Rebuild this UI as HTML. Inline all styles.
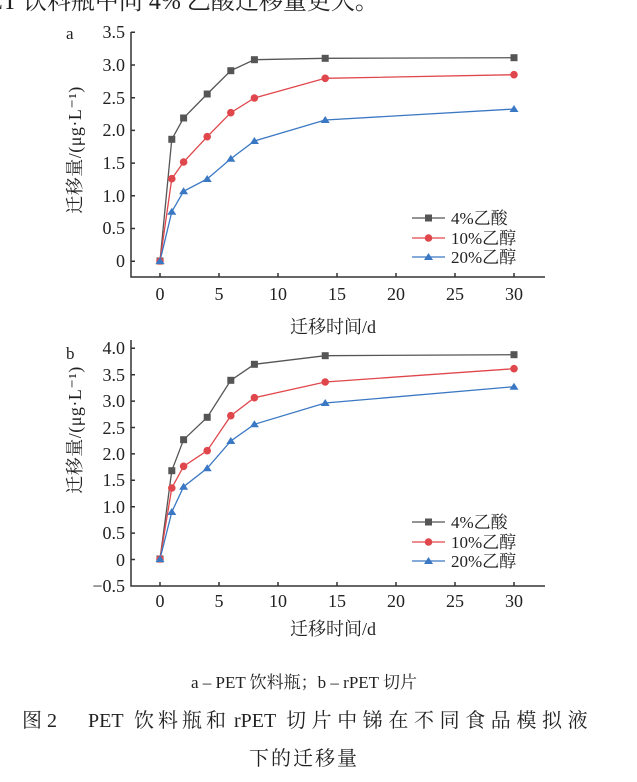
<!DOCTYPE html>
<html><head><meta charset="utf-8"><style>
html,body{margin:0;padding:0;background:#fff;width:637px;height:782px;overflow:hidden}
svg{display:block}
text{font-family:"Liberation Serif","Noto Serif CJK SC",serif;fill:#222}
</style></head><body>
<svg width="637" height="782" viewBox="0 0 637 782" xmlns="http://www.w3.org/2000/svg">
<text x="-12" y="9" font-size="24" fill="#333">ET 饮料瓶中同 4% 乙酸迁移量更大。</text>

<!-- Chart a -->
<g stroke="#333" stroke-width="1.5" fill="none">
<path d="M131,32 V277 H545"/>
<path d="M131,32.3h4M131,65h4M131,97.7h4M131,130.4h4M131,163.1h4M131,195.8h4M131,228.5h4M131,261.2h4"/>
<path d="M160,277v-4M219,277v-4M278,277v-4M337,277v-4M396,277v-4M455,277v-4M514,277v-4"/>
</g>
<g font-size="18" text-anchor="end">
<text x="125" y="38">3.5</text><text x="125" y="71">3.0</text><text x="125" y="104">2.5</text><text x="125" y="136">2.0</text><text x="125" y="169">1.5</text><text x="125" y="202">1.0</text><text x="125" y="234">0.5</text><text x="125" y="267">0</text>
</g>
<text x="66" y="39" font-size="17">a</text>
<g font-size="18" text-anchor="middle">
<text x="160" y="300">0</text><text x="219" y="300">5</text><text x="278" y="300">10</text><text x="337" y="300">15</text><text x="396" y="300">20</text><text x="455" y="300">25</text><text x="514" y="300">30</text>
<text x="333" y="333">迁移时间/d</text>
<text transform="translate(81,150) rotate(-90)" letter-spacing="0.5">迁移量/(μg·L⁻¹)</text>
</g>
<polyline fill="none" stroke="#555" stroke-width="1.3" points="160,261 171.8,139.3 183.6,118 207.2,94 230.8,70.7 254.4,59.7 325.2,58.3 514,57.7"/>
<polyline fill="none" stroke="#e0474c" stroke-width="1.3" points="160,261 171.8,178.7 183.6,162 207.2,136.7 230.8,112.7 254.4,98 325.2,78.3 514,74.7"/>
<polyline fill="none" stroke="#3a78c3" stroke-width="1.3" points="160,261 171.8,211.7 183.6,191.3 207.2,179 230.8,158.7 254.4,141 325.2,120 514,109"/>
<g fill="#555">
<rect x="156.5" y="257.5" width="7" height="7"/><rect x="168.3" y="135.8" width="7" height="7"/><rect x="180.1" y="114.5" width="7" height="7"/><rect x="203.7" y="90.5" width="7" height="7"/><rect x="227.3" y="67.2" width="7" height="7"/><rect x="250.9" y="56.2" width="7" height="7"/><rect x="321.7" y="54.8" width="7" height="7"/><rect x="510.5" y="54.2" width="7" height="7"/>
</g>
<g fill="#e0474c">
<circle cx="160" cy="261" r="3.8"/><circle cx="171.8" cy="178.7" r="3.8"/><circle cx="183.6" cy="162" r="3.8"/><circle cx="207.2" cy="136.7" r="3.8"/><circle cx="230.8" cy="112.7" r="3.8"/><circle cx="254.4" cy="98" r="3.8"/><circle cx="325.2" cy="78.3" r="3.8"/><circle cx="514" cy="74.7" r="3.8"/>
</g>
<g fill="#3a78c3">
<path d="M160,257l4.5,7h-9z"/><path d="M171.8,207.7l4.5,7h-9z"/><path d="M183.6,187.3l4.5,7h-9z"/><path d="M207.2,175l4.5,7h-9z"/><path d="M230.8,154.7l4.5,7h-9z"/><path d="M254.4,137l4.5,7h-9z"/><path d="M325.2,116l4.5,7h-9z"/><path d="M514,105l4.5,7h-9z"/>
</g>
<g stroke-width="1.3">
<line x1="412" y1="218" x2="445" y2="218" stroke="#555"/><rect x="425" y="214.5" width="7" height="7" fill="#555"/>
<line x1="412" y1="238" x2="445" y2="238" stroke="#e0474c"/><circle cx="428.5" cy="238" r="3.8" fill="#e0474c"/>
<line x1="412" y1="257" x2="445" y2="257" stroke="#3a78c3"/><path d="M428.5,253l4.5,7h-9z" fill="#3a78c3"/>
</g>
<g font-size="17"><text x="451" y="224">4%乙酸</text><text x="451" y="244">10%乙醇</text><text x="451" y="263">20%乙醇</text></g>

<!-- Chart b -->
<g stroke="#333" stroke-width="1.5" fill="none">
<path d="M131,340 V586 H545"/>
<path d="M131,348.3h4M131,374.7h4M131,401.1h4M131,427.5h4M131,453.9h4M131,480.3h4M131,506.7h4M131,533.1h4M131,559.5h4"/>
<path d="M160,586v-4M219,586v-4M278,586v-4M337,586v-4M396,586v-4M455,586v-4M514,586v-4"/>
</g>
<g font-size="18" text-anchor="end">
<text x="125" y="354">4.0</text><text x="125" y="381">3.5</text><text x="125" y="407">3.0</text><text x="125" y="434">2.5</text><text x="125" y="460">2.0</text><text x="125" y="486">1.5</text><text x="125" y="513">1.0</text><text x="125" y="539">0.5</text><text x="125" y="566">0</text><text x="125" y="592">−0.5</text>
</g>
<text x="66" y="359" font-size="17">b</text>
<g font-size="18" text-anchor="middle">
<text x="160" y="607">0</text><text x="219" y="607">5</text><text x="278" y="607">10</text><text x="337" y="607">15</text><text x="396" y="607">20</text><text x="455" y="607">25</text><text x="514" y="607">30</text>
<text x="333" y="635">迁移时间/d</text>
<text transform="translate(81,430) rotate(-90)" letter-spacing="0.5">迁移量/(μg·L⁻¹)</text>
</g>
<polyline fill="none" stroke="#555" stroke-width="1.3" points="160,559 171.8,470.7 183.6,439.7 207.2,417.3 230.8,380.3 254.4,364.3 325.2,355.7 514,354.7"/>
<polyline fill="none" stroke="#e0474c" stroke-width="1.3" points="160,559 171.8,488 183.6,466.3 207.2,450.7 230.8,415.7 254.4,397.7 325.2,382 514,368.7"/>
<polyline fill="none" stroke="#3a78c3" stroke-width="1.3" points="160,559 171.8,512 183.6,486.7 207.2,468.3 230.8,441 254.4,424.3 325.2,403 514,386.7"/>
<g fill="#555">
<rect x="156.5" y="555.5" width="7" height="7"/><rect x="168.3" y="467.2" width="7" height="7"/><rect x="180.1" y="436.2" width="7" height="7"/><rect x="203.7" y="413.8" width="7" height="7"/><rect x="227.3" y="376.8" width="7" height="7"/><rect x="250.9" y="360.8" width="7" height="7"/><rect x="321.7" y="352.2" width="7" height="7"/><rect x="510.5" y="351.2" width="7" height="7"/>
</g>
<g fill="#e0474c">
<circle cx="160" cy="559" r="3.8"/><circle cx="171.8" cy="488" r="3.8"/><circle cx="183.6" cy="466.3" r="3.8"/><circle cx="207.2" cy="450.7" r="3.8"/><circle cx="230.8" cy="415.7" r="3.8"/><circle cx="254.4" cy="397.7" r="3.8"/><circle cx="325.2" cy="382" r="3.8"/><circle cx="514" cy="368.7" r="3.8"/>
</g>
<g fill="#3a78c3">
<path d="M160,555l4.5,7h-9z"/><path d="M171.8,508l4.5,7h-9z"/><path d="M183.6,482.7l4.5,7h-9z"/><path d="M207.2,464.3l4.5,7h-9z"/><path d="M230.8,437l4.5,7h-9z"/><path d="M254.4,420.3l4.5,7h-9z"/><path d="M325.2,399l4.5,7h-9z"/><path d="M514,382.7l4.5,7h-9z"/>
</g>
<g stroke-width="1.3">
<line x1="412" y1="522" x2="445" y2="522" stroke="#555"/><rect x="425" y="518.5" width="7" height="7" fill="#555"/>
<line x1="412" y1="542" x2="445" y2="542" stroke="#e0474c"/><circle cx="428.5" cy="542" r="3.8" fill="#e0474c"/>
<line x1="412" y1="561" x2="445" y2="561" stroke="#3a78c3"/><path d="M428.5,557l4.5,7h-9z" fill="#3a78c3"/>
</g>
<g font-size="17"><text x="451" y="528">4%乙酸</text><text x="451" y="548">10%乙醇</text><text x="451" y="567">20%乙醇</text></g>

<!-- captions -->
<text x="304" y="688" font-size="17" text-anchor="middle">a – PET 饮料瓶；b – rPET 切片</text>
<text y="727" font-size="20" fill="#333"><tspan x="22">图 2</tspan><tspan x="88">PET</tspan><tspan x="134" letter-spacing="4">饮料瓶和</tspan><tspan x="234">rPET</tspan><tspan x="286" letter-spacing="5.6">切片中锑在不同食品模拟液</tspan></text>
<text x="304" y="765" font-size="20" fill="#333" text-anchor="middle" letter-spacing="2">下的迁移量</text>
</svg>
</body></html>
